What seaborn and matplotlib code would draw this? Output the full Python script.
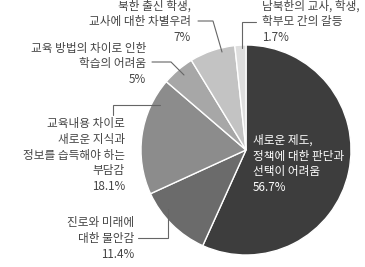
import matplotlib
matplotlib.use("Agg")
import matplotlib.pyplot as plt
import seaborn as sns

categories = [
    "새로운 제도,\n정책에 대한 판단과\n선택이 어려움",
    "진로와 미래에\n대한 불안감",
    "교육내용 차이로\n새로운 지식과\n정보를 습득해야 하는\n부담감",
    "교육 방법의 차이로 인한\n학습의 어려움",
    "북한 출신 학생,\n교사에 대한 차별우려",
    "남북한의 교사, 학생,\n학부모 간의 갈등",
]
values = [56.7, 11.4, 18.1, 5, 7, 1.7]
value_labels = ["56.7%", "11.4%", "18.1%", "5%", "7%", "1.7%"]
colors = ["#3d3d3d", "#6b6b6b", "#8c8c8c", "#a7a7a7", "#c3c3c3", "#dedede"]

sns.set_theme(style="white")
plt.rcParams["font.family"] = ["Noto Sans CJK KR", "DejaVu Sans"]

W, H = 365, 267
fig = plt.figure(figsize=(W / 100, H / 100), dpi=100)
ax = fig.add_axes([0, 0, 1, 1])

def Y(y):
    return H - y

cx, cy, r = 246, 150, 105
ax.pie(values, colors=colors, startangle=90, counterclock=False,
       center=(cx, Y(cy)), radius=r, frame=True,
       wedgeprops=dict(edgecolor="white", linewidth=1.0))
ax.set_xlim(0, W)
ax.set_ylim(0, H)
ax.axis("off")

fs = 8.4
tc = "#444444"
lc = "#666666"
ls = 1.29

# label placements: (x, y_center, ha, color)
places = [
    (253, 164, "left", "white"),
    (134, 238.5, "right", tc),
    (125, 155, "right", tc),
    (146, 64, "right", tc),
    (191, 22, "right", tc),
    (262, 22, "left", tc),
]
for cat, vl, (x, y, ha, c) in zip(categories, value_labels, places):
    ax.text(x, Y(y), cat + "\n" + vl, ha=ha, va="center", multialignment=ha,
            fontsize=fs, color=c, linespacing=ls)

leaders = [
    [(138, 238), (168, 238), (168, 209)],
    [(113, 115), (113, 105), (160, 105)],
    [(152, 62), (171, 62), (184, 75)],
    [(198, 21), (213, 21), (222, 52)],
    [(256, 22), (242, 22), (242, 48)],
]
for pts in leaders:
    xs = [p[0] for p in pts]
    ys = [Y(p[1]) for p in pts]
    ax.plot(xs, ys, color=lc, linewidth=0.8, solid_joinstyle="miter")

fig.savefig("out.png", dpi=100)
